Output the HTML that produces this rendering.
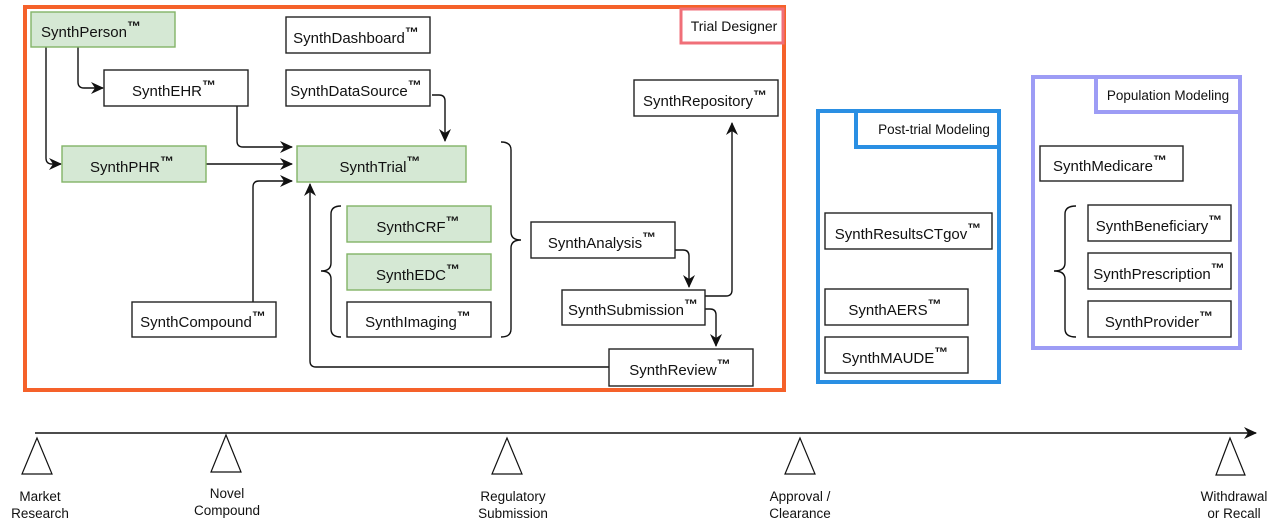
<!DOCTYPE html>
<html><head><meta charset="utf-8"><style>
html,body{margin:0;padding:0;background:#fff;width:1280px;height:526px;overflow:hidden}
svg{display:block}
text{font-family:"Liberation Sans",sans-serif;fill:#111}
.t{font-size:15px;text-anchor:middle}
.tm{font-size:14px;font-weight:bold}
.lb{font-size:13.5px;text-anchor:middle}
.w{fill:#fff;stroke:#222;stroke-width:1.4}
.g{fill:#d5e8d4;stroke:#82b366;stroke-width:1.4}
.c{fill:none;stroke:#111;stroke-width:1.4}
</style></head><body>
<svg width="1280" height="526" viewBox="0 0 1280 526" xmlns="http://www.w3.org/2000/svg">
<defs><marker id="a" markerWidth="13" markerHeight="12" refX="12" refY="6" orient="auto" markerUnits="userSpaceOnUse"><path d="M0,0 L13,6 L0,12 L4,6 z" fill="#111"/></marker></defs>

<rect x="25" y="7" width="759" height="383" fill="none" stroke="#f5612a" stroke-width="4"/>
<rect x="681" y="9" width="102" height="34" fill="#fff" stroke="#f06f78" stroke-width="3"/>
<text x="734" y="31" class="lb" style="font-size:14px">Trial Designer</text>

<path class="c" d="M46,47 V158 Q46,164 52,164 H61" marker-end="url(#a)"/>
<path class="c" d="M78,47 V82 Q78,88 84,88 H103" marker-end="url(#a)"/>
<path class="c" d="M237,106 V141 Q237,147 243,147 H292" marker-end="url(#a)"/>
<path class="c" d="M206,164 H292" marker-end="url(#a)"/>
<path class="c" d="M253,302 V187 Q253,181 259,181 H292" marker-end="url(#a)"/>
<path class="c" d="M432,95 H439 Q445,95 445,101 V141" marker-end="url(#a)"/>
<path class="c" d="M609,367 H316 Q310,367 310,361 V184" marker-end="url(#a)"/>
<path class="c" d="M675,250 H683 Q689,250 689,256 V287" marker-end="url(#a)"/>
<path class="c" d="M705,296 H726 Q732,296 732,290 V123" marker-end="url(#a)"/>
<path class="c" d="M705,309 H710 Q716,309 716,315 V346" marker-end="url(#a)"/>
<path class="c" d="M341,206 Q331,206 331,214 V263 Q331,271 321,271 Q331,271 331,279 V329 Q331,337 341,337"/>
<path class="c" d="M501,142 Q511,142 511,150 V232 Q511,240 521,240 Q511,240 511,248 V329 Q511,337 501,337"/>
<path class="c" d="M1076,206 Q1065,206 1065,214 V263 Q1065,271 1054,271 Q1065,271 1065,279 V329 Q1065,337 1076,337"/>

<g>
<rect class="g" x="31" y="12" width="144" height="35"/><text class="t" x="91" y="37">SynthPerson<tspan class="tm" dy="-6">™</tspan></text>
<rect class="w" x="286" y="17" width="144" height="36"/><text class="t" x="356" y="43">SynthDashboard<tspan class="tm" dy="-6">™</tspan></text>
<rect class="w" x="104" y="70" width="144" height="36"/><text class="t" x="174" y="96">SynthEHR<tspan class="tm" dy="-6">™</tspan></text>
<rect class="w" x="286" y="70" width="144" height="36"/><text class="t" x="356" y="96">SynthDataSource<tspan class="tm" dy="-6">™</tspan></text>
<rect class="g" x="62" y="146" width="144" height="36"/><text class="t" x="132" y="172">SynthPHR<tspan class="tm" dy="-6">™</tspan></text>
<rect class="g" x="297" y="146" width="169" height="36"/><text class="t" x="380" y="172">SynthTrial<tspan class="tm" dy="-6">™</tspan></text>
<rect class="g" x="347" y="206" width="144" height="36"/><text class="t" x="418" y="232">SynthCRF<tspan class="tm" dy="-6">™</tspan></text>
<rect class="g" x="347" y="254" width="144" height="36"/><text class="t" x="418" y="280">SynthEDC<tspan class="tm" dy="-6">™</tspan></text>
<rect class="w" x="347" y="302" width="144" height="35"/><text class="t" x="418" y="327">SynthImaging<tspan class="tm" dy="-6">™</tspan></text>
<rect class="w" x="132" y="302" width="144" height="35"/><text class="t" x="203" y="327">SynthCompound<tspan class="tm" dy="-6">™</tspan></text>
<rect class="w" x="634" y="80" width="144" height="36"/><text class="t" x="705" y="106">SynthRepository<tspan class="tm" dy="-6">™</tspan></text>
<rect class="w" x="531" y="222" width="144" height="36"/><text class="t" x="602" y="248">SynthAnalysis<tspan class="tm" dy="-6">™</tspan></text>
<rect class="w" x="562" y="290" width="143" height="35"/><text class="t" x="633" y="315">SynthSubmission<tspan class="tm" dy="-6">™</tspan></text>
<rect class="w" x="609" y="349" width="144" height="37"/><text class="t" x="680" y="375">SynthReview<tspan class="tm" dy="-6">™</tspan></text>
</g>

<rect x="818" y="111" width="181" height="271" fill="none" stroke="#2a8fe3" stroke-width="4"/>
<rect x="856" y="111" width="143" height="36" fill="#fff" stroke="#2a8fe3" stroke-width="4"/>
<text x="934" y="134" class="lb">Post-trial Modeling</text>
<rect class="w" x="825" y="213" width="167" height="36"/><text class="t" x="908" y="239">SynthResultsCTgov<tspan class="tm" dy="-6">™</tspan></text>
<rect class="w" x="825" y="289" width="143" height="36"/><text class="t" x="895" y="315">SynthAERS<tspan class="tm" dy="-6">™</tspan></text>
<rect class="w" x="825" y="337" width="143" height="36"/><text class="t" x="895" y="363">SynthMAUDE<tspan class="tm" dy="-6">™</tspan></text>

<rect x="1033" y="77" width="207" height="271" fill="none" stroke="#9d9cf5" stroke-width="4"/>
<rect x="1096" y="77" width="144" height="35" fill="#fff" stroke="#9d9cf5" stroke-width="4"/>
<text x="1168" y="100" class="lb">Population Modeling</text>
<rect class="w" x="1040" y="146" width="143" height="35"/><text class="t" x="1110" y="171">SynthMedicare<tspan class="tm" dy="-6">™</tspan></text>
<rect class="w" x="1088" y="205" width="143" height="36"/><text class="t" x="1159" y="231">SynthBeneficiary<tspan class="tm" dy="-6">™</tspan></text>
<rect class="w" x="1088" y="253" width="143" height="36"/><text class="t" x="1159" y="279">SynthPrescription<tspan class="tm" dy="-6">™</tspan></text>
<rect class="w" x="1088" y="301" width="143" height="36"/><text class="t" x="1159" y="327">SynthProvider<tspan class="tm" dy="-6">™</tspan></text>

<path d="M35,433 H1256" stroke="#111" stroke-width="1.6" fill="none" marker-end="url(#a)"/>
<g fill="#fff" stroke="#111" stroke-width="1.2">
<polygon points="37,438 22,474 52,474"/>
<polygon points="226,435 211,472 241,472"/>
<polygon points="507,438 492,474 522,474"/>
<polygon points="800,438 785,474 815,474"/>
<polygon points="1230,438 1216,475 1245,475"/>
</g>
<text class="lb" x="40" y="501">Market</text><text class="lb" x="40" y="518">Research</text>
<text class="lb" x="227" y="498">Novel</text><text class="lb" x="227" y="515">Compound</text>
<text class="lb" x="513" y="501">Regulatory</text><text class="lb" x="513" y="518">Submission</text>
<text class="lb" x="800" y="501">Approval /</text><text class="lb" x="800" y="518">Clearance</text>
<text class="lb" x="1234" y="501">Withdrawal</text><text class="lb" x="1234" y="518">or Recall</text>
</svg>
</body></html>
